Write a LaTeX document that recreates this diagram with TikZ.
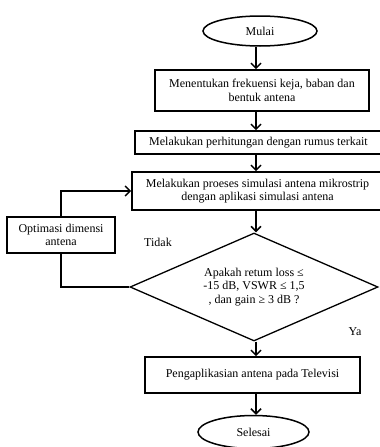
\documentclass[tikz,border=0pt]{standalone}
\usepackage{fontspec}
\setmainfont{Liberation Serif}
\usetikzlibrary{arrows.meta,shapes.geometric}

\begin{document}
\begin{tikzpicture}[
    x=1pt, y=-1pt,
    every node/.style={font=\fontsize{12}{13.5}\selectfont},
    terminal/.style={draw, ellipse, line width=1.5pt, inner sep=0pt},
    proc/.style={draw, rectangle, line width=1.7pt, align=center, inner sep=0pt},
    decision/.style={draw, diamond, aspect=2.3, line width=1.3pt,
                     align=center, inner sep=0pt},
    arr/.style={line width=1.5pt,
                -{Straight Barb[length=5pt,width=10pt,line width=1.5pt]}},
    link/.style={line width=1.5pt},
  ]
  \useasboundingbox (0,0) rectangle (380,447);

  \node[terminal, minimum width=114pt, minimum height=30pt] (start) at (260,31) {Mulai};
  \node[proc, minimum width=214pt, minimum height=41pt] (size) at (262,90.5)
    {Menentukan frekuensi keja, baban dan\\bentuk antena};
  \node[proc, minimum width=247pt, minimum height=23pt] (calc) at (258.5,142.5)
    {Melakukan perhitungan dengan rumus terkait};
  \node[proc, minimum width=251pt, minimum height=38pt] (sim) at (257.5,191)
    {Melakukan proeses simulasi antena mikrostrip\\dengan aplikasi simulasi antena};
  \node[decision, minimum width=248pt, minimum height=108pt] (check) at (254,287)
    {Apakah retum loss ≤\\-15 dB, VSWR ≤ 1,5\\, dan gain ≥ 3 dB ?};
  \node[proc, minimum width=215pt, minimum height=36pt] (apply) at (252.5,375)
    {Pengaplikasian antena pada Televisi};
  \node[terminal, minimum width=111pt, minimum height=33pt] (stop) at (253.5,432) {Selesai};
  \node[proc, minimum width=108pt, minimum height=36pt] (optim) at (61,235)
    {Optimasi dimensi\\antena};
  \node (no) at (158,242) {Tidak};
  \node (yes) at (355,332) {Ya};

  % main column
  \coordinate (col) at (256,0);
  \draw[arr] (start.south -| col) -- (size.north -| col);
  \draw[arr] (size.south -| col) -- (calc.north -| col);
  \draw[arr] (calc.south -| col) -- (sim.north -| col);
  \draw[arr] (sim.south -| col) -- (check.north -| col);
  \draw[arr] (check.south -| col) -- (apply.north -| col);
  \draw[arr] (apply.south -| col) -- (stop.north -| col);

  % loop back
  \draw[link] (check.west) -| (optim.south);
  \draw[arr] (optim.north) |- (sim.west);
\end{tikzpicture}
\end{document}
